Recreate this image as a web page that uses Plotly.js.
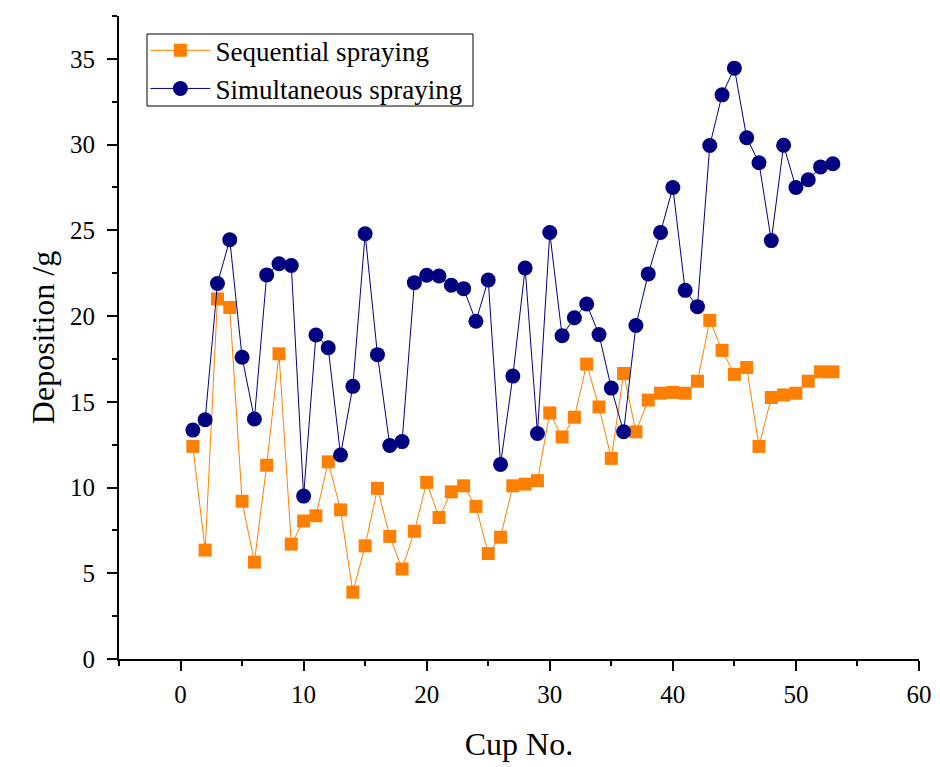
<!DOCTYPE html>
<html>
<head>
<meta charset="utf-8">
<script src="https://cdn.plot.ly/plotly-3.0.1.min.js"></script>
<style>
  html, body { margin: 0; padding: 0; background: #ffffff; }
  #chart { width: 940px; height: 767px; }
</style>
</head>
<body>
<div id="chart"></div>
<script>
// Cup positions along the spray line
const cupNo = [1, 2, 3, 4, 5, 6, 7, 8, 9, 10,
  11, 12, 13, 14, 15, 16, 17, 18, 19, 20,
  21, 22, 23, 24, 25, 26, 27, 28, 29, 30,
  31, 32, 33, 34, 35, 36, 37, 38, 39, 40,
  41, 42, 43, 44, 45, 46, 47, 48, 49, 50,
  51, 52, 53];

// Deposition per cup (g), sequential spraying
const sequential = [12.4, 6.35, 21.0, 20.5, 9.2, 5.65, 11.3, 17.8, 6.7, 8.05,
  8.35, 11.5, 8.7, 3.9, 6.6, 9.95, 7.15, 5.25, 7.45, 10.3,
  8.25, 9.75, 10.1, 8.9, 6.15, 7.1, 10.1, 10.2, 10.4, 14.35,
  12.95, 14.1, 17.2, 14.7, 11.7, 16.65, 13.25, 15.1, 15.5, 15.55,
  15.5, 16.2, 19.75, 18.0, 16.6, 17.0, 12.4, 15.25, 15.4, 15.5,
  16.2, 16.75, 16.75];

// Deposition per cup (g), simultaneous spraying
const simultaneous = [13.35, 13.95, 21.9, 24.45, 17.6, 14.0, 22.4, 23.05, 22.95, 9.5,
  18.9, 18.15, 11.9, 15.9, 24.8, 17.75, 12.45, 12.68, 21.95, 22.38,
  22.34, 21.8, 21.6, 19.7, 22.1, 11.35, 16.5, 22.8, 13.15, 24.87,
  18.85, 19.9, 20.7, 18.92, 15.8, 13.25, 19.45, 22.46, 24.88, 27.5,
  21.5, 20.55, 29.95, 32.9, 34.46, 30.4, 28.94, 24.4, 29.96, 27.5,
  27.95, 28.7, 28.88];

const seriesNames = ['Sequential spraying', 'Simultaneous spraying'];
const xTitle = 'Cup No.';
const yTitle = 'Deposition /g';

const ORANGE = '#ff8000';
const NAVY = '#000080';
const SERIF = '"Liberation Serif", "Times New Roman", serif';

const traces = [
  {
    x: cupNo, y: sequential, name: seriesNames[0],
    type: 'scatter', mode: 'lines+markers',
    line: { color: ORANGE, width: 1 },
    marker: { symbol: 'square', size: 13, color: ORANGE, line: { width: 0 } }
  },
  {
    x: cupNo, y: simultaneous, name: seriesNames[1],
    type: 'scatter', mode: 'lines+markers',
    line: { color: NAVY, width: 1 },
    marker: { symbol: 'circle', size: 15, color: NAVY, line: { width: 0 } }
  }
];

const axisCommon = {
  showline: true, linecolor: '#000', linewidth: 2,
  ticks: 'outside', ticklen: 10, tickwidth: 2, tickcolor: '#000',
  showgrid: false, zeroline: false, mirror: false,
  tickfont: { family: SERIF, size: 25, color: '#000' }
};

const layout = {
  width: 940, height: 767,
  margin: { l: 119, r: 21, t: 16, b: 108 },
  paper_bgcolor: '#ffffff', plot_bgcolor: '#ffffff',
  font: { family: SERIF, color: '#000' },
  showlegend: true,
  legend: {
    x: 0.033, y: 0.984, xanchor: 'left', yanchor: 'top',
    bgcolor: 'rgba(0,0,0,0)', borderwidth: 0,
    font: { family: SERIF, size: 27, color: '#000' },
    itemwidth: 60, tracegroupgap: 0
  },
  // frame drawn around the legend entries
  shapes: [{
    type: 'rect', xref: 'paper', yref: 'paper',
    x0: 0.035, x1: 0.4425, y0: 0.860, y1: 0.972,
    line: { color: '#000', width: 1 }, fillcolor: 'rgba(0,0,0,0)', layer: 'above'
  }],
  xaxis: Object.assign({}, axisCommon, {
    range: [-5, 60], tick0: 0, dtick: 10, ticklabelstandoff: 2,
    minor: { ticks: 'outside', ticklen: 5, tickwidth: 2, tickcolor: '#000', dtick: 5, tick0: 0, showgrid: false },
    title: { text: xTitle, font: { family: SERIF, size: 32, color: '#000' }, standoff: 26 }
  }),
  yaxis: Object.assign({}, axisCommon, {
    range: [0, 37.5], tick0: 0, dtick: 5, ticklabelstandoff: 7,
    minor: { ticks: 'outside', ticklen: 5, tickwidth: 2, tickcolor: '#000', dtick: 2.5, tick0: 0, showgrid: false },
    title: { text: yTitle, font: { family: SERIF, size: 32, color: '#000' }, standoff: 6 }
  })
};

Plotly.newPlot('chart', traces, layout, { displayModeBar: false, staticPlot: true });
</script>
</body>
</html>
